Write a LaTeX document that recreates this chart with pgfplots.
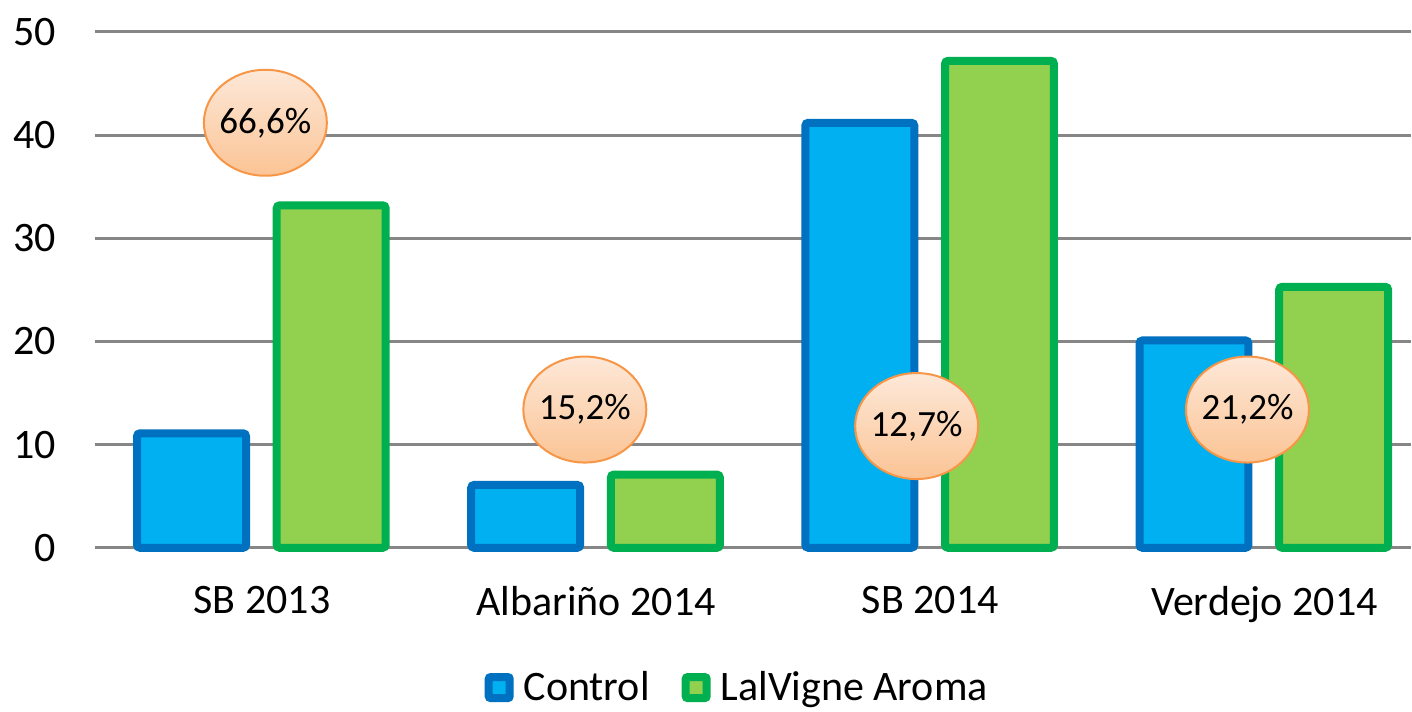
\documentclass[border=0pt]{standalone}
\usepackage{pgfplots}
\pgfplotsset{compat=1.18}
\usepackage{fontspec}
\setmainfont{Carlito}
\usetikzlibrary{shapes.geometric}
\definecolor{ctrlfill}{HTML}{00B0F0}
\definecolor{ctrldraw}{HTML}{0070C0}
\definecolor{lalfill}{HTML}{92D050}
\definecolor{laldraw}{HTML}{00B050}
\definecolor{gridc}{HTML}{868686}
\definecolor{ellborder}{HTML}{F79646}
\definecolor{elltop}{HTML}{FDE8D8}
\definecolor{ellbot}{HTML}{FBC495}
\begin{document}
\begin{tikzpicture}
\begin{axis}[
  name=ax,
  scale only axis,
  width=658pt, height=258pt,
  xmin=-0.5, xmax=3.437,
  ymin=0, ymax=50,
  ytick={0,10,20,30,40,50},
  xtick={0,1,2,3},
  xticklabels={SB 2013, Albariño 2014, SB 2014, Verdejo 2014},
  axis line style={draw=none},
  major tick length=0pt,
  ymajorgrids,
  grid style={gridc, line width=1.5pt},
  tick label style={font=\fontsize{21}{24}\selectfont},
  /pgf/number format/assume math mode=true,
  yticklabel style={xshift=-16pt},
  xticklabel style={yshift=-15.5pt},
  clip=false,
  legend style={at={(0.489,-0.271)}, anchor=center, draw=none, legend columns=2,
    font=\fontsize{21}{24}\selectfont,
    /tikz/every odd column/.append style={column sep=3pt},
    /tikz/every even column/.append style={column sep=14pt}},
  legend image code/.code={\draw[#1, bar shift=0pt, line width=4pt, rounded corners=1pt] (2pt,-5.25pt) rectangle (12.5pt,5.25pt);},
]
\addplot[ybar, bar width=0.326, bar shift=-0.211, fill=ctrlfill, draw=ctrldraw, line width=4pt, rounded corners=1.5pt]
  coordinates {(0,11.1) (1,6.1) (2,41.2) (3,20.1)};
\addlegendentry{Control}
\addplot[ybar, bar width=0.326, bar shift=0.207, fill=lalfill, draw=laldraw, line width=4pt, rounded corners=1.5pt]
  coordinates {(0,33.2) (1,7.1) (2,47.2) (3,25.3)};
\addlegendentry{LalVigne Aroma}
\tikzset{pct/.style={ellipse, draw=ellborder, line width=1pt, top color=elltop, bottom color=ellbot, minimum width=61.5pt, minimum height=53pt, inner xsep=-1.5pt, inner ysep=0pt, font=\fontsize{18.5}{22}\selectfont}}
\node[pct] at (axis cs:0.01,41.2) {66,6\%};
\node[pct] at (axis cs:0.966,13.4) {15,2\%};
\node[pct] at (axis cs:1.959,11.8) {12,7\%};
\node[pct] at (axis cs:2.949,13.4) {21,2\%};
\end{axis}
\path ([xshift=-47.5pt, yshift=-79.5pt]ax.south west) rectangle ([xshift=0.5pt, yshift=16pt]ax.north east);
\end{tikzpicture}
\end{document}
